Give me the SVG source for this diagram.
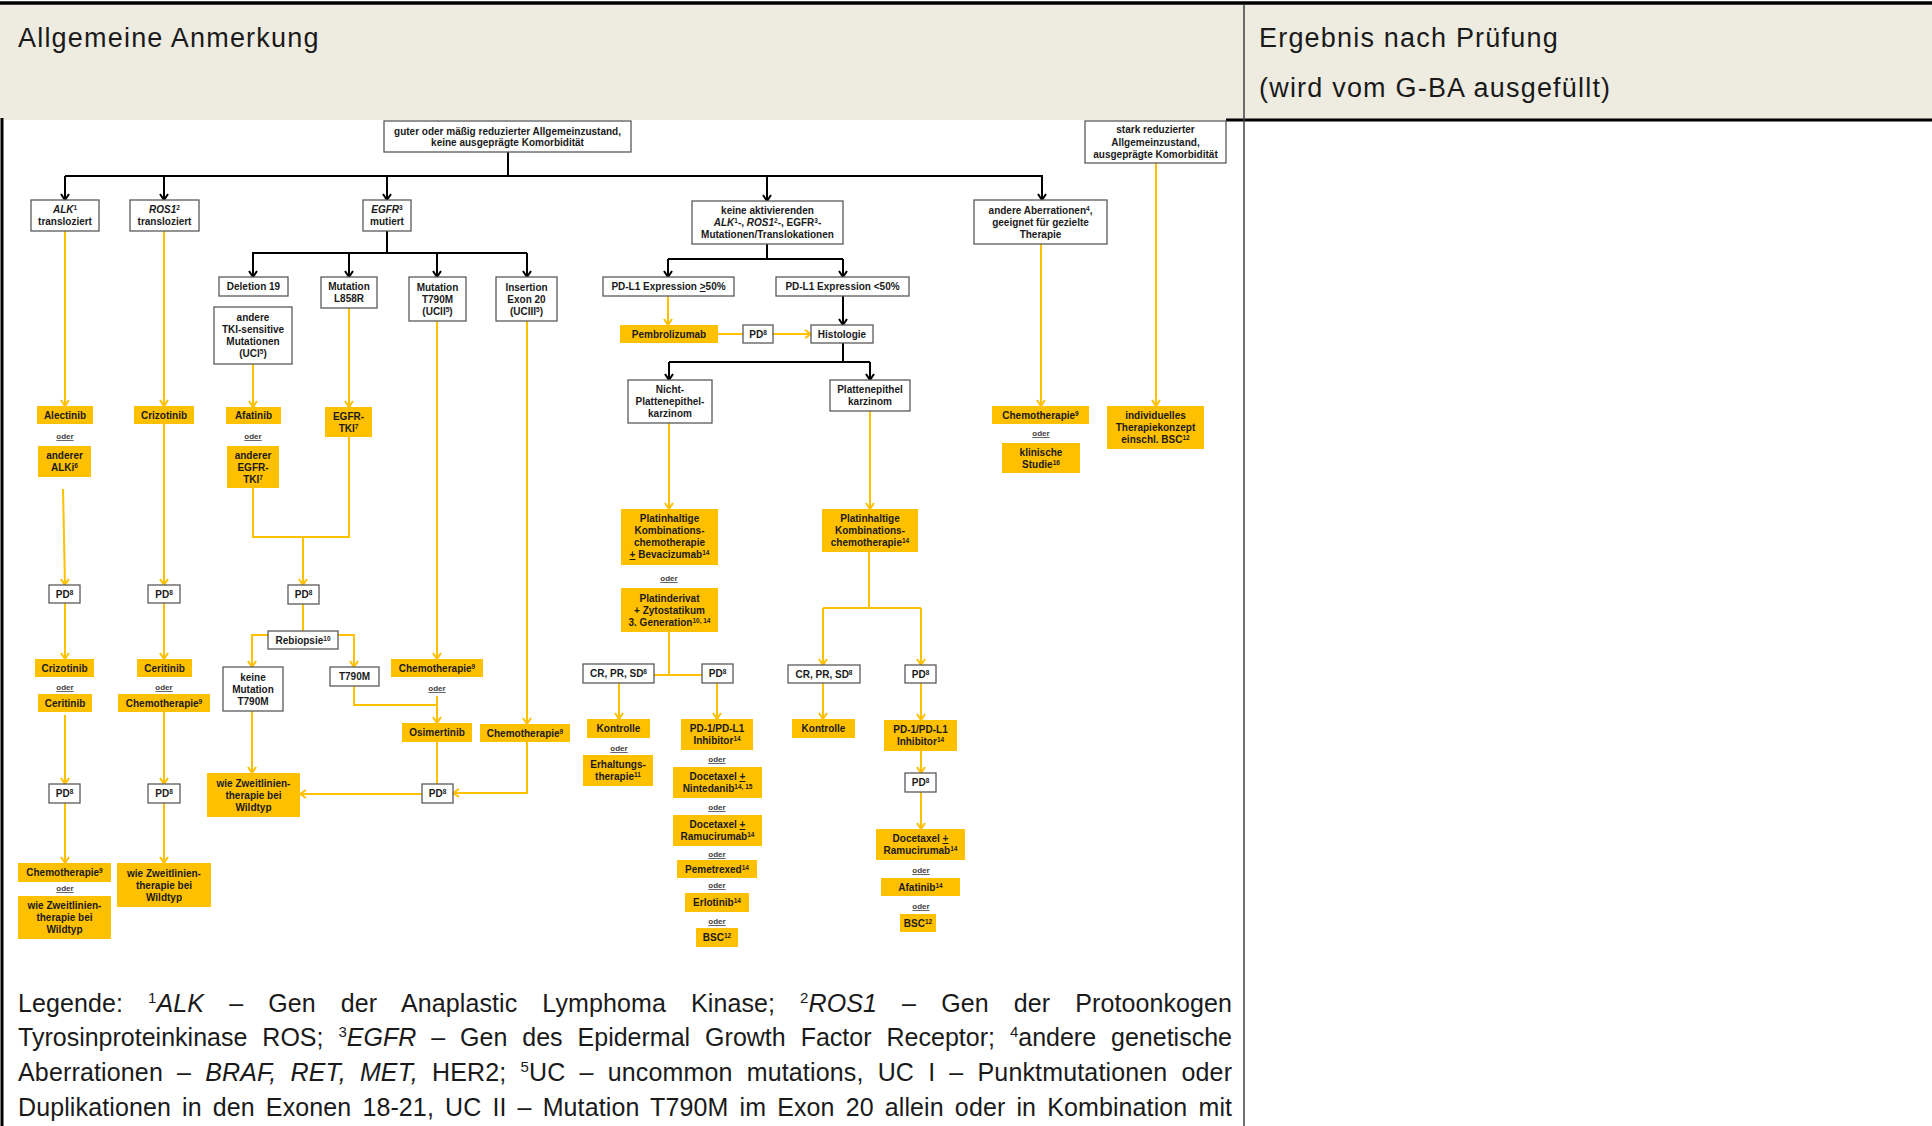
<svg xmlns="http://www.w3.org/2000/svg" width="1932" height="1126" viewBox="0 0 1932 1126">
<defs>
<style>
.t{font-family:"Liberation Sans",Arial,sans-serif;font-weight:bold;font-size:10px;text-anchor:middle;fill:#1a1a1a}
.it{font-style:italic}
.s{font-size:6.5px;baseline-shift:3.5px}
.u{text-decoration:underline}
.o{font-family:"Liberation Sans",Arial,sans-serif;font-weight:bold;font-size:8px;text-anchor:middle;fill:#404040;text-decoration:underline}
.b{fill:#fff;stroke:#5a5a5a;stroke-width:1.3}
.y{fill:#FFC000}
.bl{fill:none;stroke:#000;stroke-width:2}
.yl{fill:none;stroke:#FFC000;stroke-width:2}
.ab{marker-end:url(#ab)}
.ay{marker-end:url(#ay)}
.h{font-family:"Liberation Sans",Arial,sans-serif;font-size:27px;letter-spacing:1.2px;fill:#1a1a1a}
.lg{font-family:"Liberation Sans",Arial,sans-serif;font-size:25px;fill:#1a1a1a}
.ls{font-size:15px;baseline-shift:9px}
</style>
<marker id="ab" viewBox="0 0 8 10" refX="7" refY="5" markerWidth="8" markerHeight="10" markerUnits="userSpaceOnUse" orient="auto"><path d="M1,1 L7,5 L1,9" fill="none" stroke="#000" stroke-width="2"/></marker>
<marker id="ay" viewBox="0 0 8 10" refX="7" refY="5" markerWidth="8" markerHeight="10" markerUnits="userSpaceOnUse" orient="auto"><path d="M1,1 L7,5 L1,9" fill="none" stroke="#FFC000" stroke-width="2"/></marker>
</defs>

<g id="table">
<rect x="0" y="4" width="1932" height="116" fill="#EEECE1"/>
<line x1="0" y1="3" x2="1932" y2="3" stroke="#000" stroke-width="3.5"/>
<line x1="2" y1="118" x2="2" y2="1126" stroke="#000" stroke-width="3"/>
<line x1="1226" y1="120" x2="1932" y2="120" stroke="#000" stroke-width="3"/>
<line x1="1244" y1="5" x2="1244" y2="1126" stroke="#404040" stroke-width="1.5"/>
<text class="h" x="18" y="47">Allgemeine Anmerkung</text>
<text class="h" x="1259" y="47">Ergebnis nach Prüfung</text>
<text class="h" x="1259" y="97">(wird vom G-BA ausgefüllt)</text>
</g>

<g id="connectors">
<path class="bl" d="M508,152 V176"/>
<path class="bl" d="M65,176 H1042"/>
<path class="bl ab" d="M65,176 V200"/>
<path class="bl ab" d="M164,176 V200"/>
<path class="bl ab" d="M387,176 V200"/>
<path class="bl ab" d="M767,176 V201"/>
<path class="bl ab" d="M1042,175 V200"/>
<path class="bl" d="M387,231 V253"/>
<path class="bl" d="M252,253 H527"/>
<path class="bl ab" d="M253,253 V277"/>
<path class="bl ab" d="M349,253 V277"/>
<path class="bl ab" d="M437,253 V277"/>
<path class="bl ab" d="M527,253 V277"/>
<path class="bl" d="M767,244 V259"/>
<path class="bl" d="M668,259 H843"/>
<path class="bl ab" d="M668,259 V277"/>
<path class="bl ab" d="M843,259 V277"/>
<path class="bl ab" d="M843,296 V325"/>
<path class="bl" d="M843,343 V362"/>
<path class="bl" d="M669,362 H870"/>
<path class="bl ab" d="M669,362 V380"/>
<path class="bl ab" d="M870,362 V380"/>
<path class="yl ay" d="M65,231 V406"/>
<path class="yl ay" d="M63,489 L65,585"/>
<path class="yl ay" d="M65,603 V659"/>
<path class="yl ay" d="M65,715 V784"/>
<path class="yl ay" d="M65,803 V863"/>
<path class="yl ay" d="M164,231 V406"/>
<path class="yl ay" d="M164,424 V585"/>
<path class="yl ay" d="M164,603 V659"/>
<path class="yl ay" d="M164,712 V784"/>
<path class="yl ay" d="M164,803 V863"/>
<path class="yl ay" d="M253,364 V407"/>
<path class="yl ay" d="M349,308 V407"/>
<path class="yl" d="M253,488 V537 H349 V437"/>
<path class="yl ay" d="M303,537 V585"/>
<path class="yl" d="M303,604 V631"/>
<path class="yl ay" d="M268,635 H252 V667"/>
<path class="yl ay" d="M338,635 H354 V667"/>
<path class="yl ay" d="M252,711 V773"/>
<path class="yl ay" d="M437,321 V659"/>
<path class="yl" d="M354,686 V705 H437"/>
<path class="yl ay" d="M437,696 V723"/>
<path class="yl" d="M437,742 V784"/>
<path class="yl ay" d="M527,321 V724"/>
<path class="yl ay" d="M527,742 V793 H453"/>
<path class="yl ay" d="M422,794 H300"/>
<path class="yl ay" d="M668,296 V325"/>
<path class="yl" d="M718,334 H743"/>
<path class="yl ay" d="M773,334 H811"/>
<path class="yl ay" d="M669,423 V509"/>
<path class="yl ay" d="M870,411 V509"/>
<path class="yl" d="M669,632 V675"/>
<path class="yl" d="M654,675 H702"/>
<path class="yl ay" d="M619,683 V719"/>
<path class="yl ay" d="M717,683 V719"/>
<path class="yl" d="M869,552 V608"/>
<path class="yl" d="M823,608 H921"/>
<path class="yl ay" d="M823,608 V665"/>
<path class="yl ay" d="M921,608 V665"/>
<path class="yl ay" d="M823,683 V719"/>
<path class="yl ay" d="M921,683 V720"/>
<path class="yl ay" d="M921,751 V773"/>
<path class="yl ay" d="M921,792 V829"/>
<path class="yl ay" d="M1041,244 V406"/>
<path class="yl ay" d="M1156,163 V406"/>
</g>

<g id="n_top"><rect class="b" x="384" y="121" width="247" height="31"/><text class="t"><tspan x="507.5" y="135">guter oder mäßig reduzierter Allgemeinzustand,</tspan><tspan x="507.5" y="146">keine ausgeprägte Komorbidität</tspan></text></g>
<g id="n_stark"><rect class="b" x="1085" y="121" width="141" height="42"/><text class="t"><tspan x="1155.5" y="133">stark reduzierter</tspan><tspan x="1155.5" y="145.5">Allgemeinzustand,</tspan><tspan x="1155.5" y="158">ausgeprägte Komorbidität</tspan></text></g>
<g id="n_alk"><rect class="b" x="31" y="200" width="68" height="31"/><text class="t"><tspan x="65" y="213"><tspan class="it">ALK</tspan><tspan class="s">1</tspan></tspan><tspan x="65" y="225">transloziert</tspan></text></g>
<g id="n_ros1"><rect class="b" x="130" y="200" width="69" height="31"/><text class="t"><tspan x="164.5" y="213"><tspan class="it">ROS1</tspan><tspan class="s">2</tspan></tspan><tspan x="164.5" y="225">transloziert</tspan></text></g>
<g id="n_egfr"><rect class="b" x="363" y="200" width="48" height="31"/><text class="t"><tspan x="387" y="213"><tspan class="it">EGFR</tspan><tspan class="s">3</tspan></tspan><tspan x="387" y="225">mutiert</tspan></text></g>
<g id="n_keine"><rect class="b" x="692" y="201" width="151" height="43"/><text class="t"><tspan x="767.5" y="214">keine aktivierenden</tspan><tspan x="767.5" y="226"><tspan class="it">ALK</tspan><tspan class="s">1</tspan>-, <tspan class="it">ROS1</tspan><tspan class="s">2</tspan>-, EGFR<tspan class="s">3</tspan>-</tspan><tspan x="767.5" y="238">Mutationen/Translokationen</tspan></text></g>
<g id="n_andere"><rect class="b" x="974" y="200" width="133" height="44"/><text class="t"><tspan x="1040.5" y="213.5">andere Aberrationen<tspan class="s">4</tspan>,</tspan><tspan x="1040.5" y="225.5">geeignet für gezielte</tspan><tspan x="1040.5" y="237.5">Therapie</tspan></text></g>
<g id="n_del19"><rect class="b" x="219" y="277" width="69" height="19"/><text class="t" x="253.5" y="290">Deletion 19</text></g>
<g id="n_uci"><rect class="b" x="214" y="307" width="78" height="57"/><text class="t"><tspan x="253" y="321">andere</tspan><tspan x="253" y="333">TKI-sensitive</tspan><tspan x="253" y="345">Mutationen</tspan><tspan x="253" y="357">(UCI<tspan class="s">5</tspan>)</tspan></text></g>
<g id="n_l858r"><rect class="b" x="321" y="277" width="56" height="31"/><text class="t"><tspan x="349" y="290">Mutation</tspan><tspan x="349" y="302">L858R</tspan></text></g>
<g id="n_t790m"><rect class="b" x="409" y="277" width="57" height="44"/><text class="t"><tspan x="437.5" y="290.5">Mutation</tspan><tspan x="437.5" y="302.5">T790M</tspan><tspan x="437.5" y="314.5">(UCII<tspan class="s">5</tspan>)</tspan></text></g>
<g id="n_ins20"><rect class="b" x="496" y="277" width="61" height="44"/><text class="t"><tspan x="526.5" y="290.5">Insertion</tspan><tspan x="526.5" y="302.5">Exon 20</tspan><tspan x="526.5" y="314.5">(UCIII<tspan class="s">5</tspan>)</tspan></text></g>
<g id="n_pdl1hi"><rect class="b" x="603" y="277" width="131" height="19"/><text class="t" x="668.5" y="290">PD-L1 Expression <tspan class="u">&gt;</tspan>50%</text></g>
<g id="n_pdl1lo"><rect class="b" x="776" y="277" width="133" height="19"/><text class="t" x="842.5" y="290">PD-L1 Expression &lt;50%</text></g>
<g id="n_pd_pembro"><rect class="b" x="743" y="325" width="30" height="18"/><text class="t" x="758" y="337.5">PD<tspan class="s">8</tspan></text></g>
<g id="n_histo"><rect class="b" x="811" y="325" width="62" height="18"/><text class="t" x="842" y="337.5">Histologie</text></g>
<g id="n_nicht"><rect class="b" x="628" y="380" width="84" height="43"/><text class="t"><tspan x="670" y="393">Nicht-</tspan><tspan x="670" y="405">Plattenepithel-</tspan><tspan x="670" y="417">karzinom</tspan></text></g>
<g id="n_platten"><rect class="b" x="830" y="380" width="80" height="31"/><text class="t"><tspan x="870" y="393">Plattenepithel</tspan><tspan x="870" y="405">karzinom</tspan></text></g>
<g id="n_alk_pd1"><rect class="b" x="49" y="585" width="31" height="18"/><text class="t" x="64.5" y="597.5">PD<tspan class="s">8</tspan></text></g>
<g id="n_alk_pd2"><rect class="b" x="49" y="784" width="31" height="19"/><text class="t" x="64.5" y="797">PD<tspan class="s">8</tspan></text></g>
<g id="n_ros_pd1"><rect class="b" x="148" y="585" width="32" height="18"/><text class="t" x="164" y="597.5">PD<tspan class="s">8</tspan></text></g>
<g id="n_ros_pd2"><rect class="b" x="148" y="784" width="32" height="19"/><text class="t" x="164" y="797">PD<tspan class="s">8</tspan></text></g>
<g id="n_egfr_pd"><rect class="b" x="288" y="585" width="31" height="19"/><text class="t" x="303.5" y="598">PD<tspan class="s">8</tspan></text></g>
<g id="n_rebiopsie"><rect class="b" x="268" y="631" width="70" height="18"/><text class="t" x="303" y="643.5">Rebiopsie<tspan class="s">10</tspan></text></g>
<g id="n_keine_t790m"><rect class="b" x="223" y="667" width="60" height="44"/><text class="t"><tspan x="253" y="680.5">keine</tspan><tspan x="253" y="692.5">Mutation</tspan><tspan x="253" y="704.5">T790M</tspan></text></g>
<g id="n_t790m_2"><rect class="b" x="330" y="667" width="49" height="19"/><text class="t" x="354.5" y="680">T790M</text></g>
<g id="n_egfr_pd2"><rect class="b" x="422" y="784" width="31" height="19"/><text class="t" x="437.5" y="797">PD<tspan class="s">8</tspan></text></g>
<g id="n_cr_ns"><rect class="b" x="583" y="664" width="71" height="19"/><text class="t" x="618.5" y="677">CR, PR, SD<tspan class="s">8</tspan></text></g>
<g id="n_pd_ns"><rect class="b" x="702" y="664" width="31" height="19"/><text class="t" x="717.5" y="677">PD<tspan class="s">8</tspan></text></g>
<g id="n_cr_sq"><rect class="b" x="788" y="665" width="72" height="18"/><text class="t" x="824" y="677.5">CR, PR, SD<tspan class="s">8</tspan></text></g>
<g id="n_pd_sq"><rect class="b" x="905" y="665" width="31" height="18"/><text class="t" x="920.5" y="677.5">PD<tspan class="s">8</tspan></text></g>
<g id="n_pd_sq2"><rect class="b" x="905" y="773" width="31" height="19"/><text class="t" x="920.5" y="786">PD<tspan class="s">8</tspan></text></g>

<g id="y_alectinib"><rect class="y" x="37" y="406" width="56" height="18"/><text class="t" x="65" y="418.5">Alectinib</text></g>
<text class="o" x="65" y="439">oder</text>
<g id="y_alki"><rect class="y" x="38" y="446" width="53" height="31"/><text class="t"><tspan x="64.5" y="459">anderer</tspan><tspan x="64.5" y="471">ALKi<tspan class="s">6</tspan></tspan></text></g>
<g id="y_crizotinib_ros"><rect class="y" x="134" y="406" width="60" height="18"/><text class="t" x="164" y="418.5">Crizotinib</text></g>
<g id="y_afatinib"><rect class="y" x="226" y="407" width="55" height="17"/><text class="t" x="253.5" y="419">Afatinib</text></g>
<text class="o" x="253" y="439">oder</text>
<g id="y_anderer_egfr"><rect class="y" x="227" y="446" width="52" height="42"/><text class="t"><tspan x="253" y="458.5">anderer</tspan><tspan x="253" y="470.5">EGFR-</tspan><tspan x="253" y="482.5">TKI<tspan class="s">7</tspan></tspan></text></g>
<g id="y_egfr_tki"><rect class="y" x="325" y="407" width="47" height="30"/><text class="t"><tspan x="348.5" y="419.5">EGFR-</tspan><tspan x="348.5" y="431.5">TKI<tspan class="s">7</tspan></tspan></text></g>
<g id="y_alk_crizotinib"><rect class="y" x="35" y="659" width="59" height="18"/><text class="t" x="64.5" y="671.5">Crizotinib</text></g>
<text class="o" x="65" y="690">oder</text>
<g id="y_alk_ceritinib"><rect class="y" x="38" y="694" width="54" height="18"/><text class="t" x="65" y="706.5">Ceritinib</text></g>
<g id="y_alk_chemo"><rect class="y" x="18" y="863" width="93" height="19"/><text class="t" x="64.5" y="876">Chemotherapie<tspan class="s">9</tspan></text></g>
<text class="o" x="65" y="891">oder</text>
<g id="y_alk_wie"><rect class="y" x="18" y="896" width="93" height="43"/><text class="t"><tspan x="64.5" y="909">wie Zweitlinien-</tspan><tspan x="64.5" y="921">therapie bei</tspan><tspan x="64.5" y="933">Wildtyp</tspan></text></g>
<g id="y_ros_ceritinib"><rect class="y" x="137" y="659" width="55" height="18"/><text class="t" x="164.5" y="671.5">Ceritinib</text></g>
<text class="o" x="164" y="690">oder</text>
<g id="y_ros_chemo"><rect class="y" x="118" y="694" width="92" height="18"/><text class="t" x="164" y="706.5">Chemotherapie<tspan class="s">9</tspan></text></g>
<g id="y_ros_wie"><rect class="y" x="117" y="863" width="94" height="44"/><text class="t"><tspan x="164" y="876.5">wie Zweitlinien-</tspan><tspan x="164" y="888.5">therapie bei</tspan><tspan x="164" y="900.5">Wildtyp</tspan></text></g>
<g id="y_t790m_chemo"><rect class="y" x="391" y="659" width="92" height="18"/><text class="t" x="437" y="671.5">Chemotherapie<tspan class="s">9</tspan></text></g>
<text class="o" x="437" y="691">oder</text>
<g id="y_osimertinib"><rect class="y" x="402" y="723" width="70" height="19"/><text class="t" x="437" y="736">Osimertinib</text></g>
<g id="y_ins_chemo"><rect class="y" x="480" y="724" width="90" height="18"/><text class="t" x="525" y="736.5">Chemotherapie<tspan class="s">9</tspan></text></g>
<g id="y_egfr_wie"><rect class="y" x="207" y="773" width="93" height="44"/><text class="t"><tspan x="253.5" y="786.5">wie Zweitlinien-</tspan><tspan x="253.5" y="798.5">therapie bei</tspan><tspan x="253.5" y="810.5">Wildtyp</tspan></text></g>
<g id="y_pembro"><rect class="y" x="620" y="325" width="98" height="18"/><text class="t" x="669" y="337.5">Pembrolizumab</text></g>
<g id="y_platin_ns"><rect class="y" x="621" y="509" width="97" height="56"/><text class="t"><tspan x="669.5" y="522">Platinhaltige</tspan><tspan x="669.5" y="534">Kombinations-</tspan><tspan x="669.5" y="546">chemotherapie</tspan><tspan x="669.5" y="558"><tspan class="u">+</tspan> Bevacizumab<tspan class="s">14</tspan></tspan></text></g>
<text class="o" x="669" y="581">oder</text>
<g id="y_platinderivat"><rect class="y" x="621" y="588" width="97" height="44"/><text class="t"><tspan x="669.5" y="601.5">Platinderivat</tspan><tspan x="669.5" y="613.5">+ Zytostatikum</tspan><tspan x="669.5" y="625.5">3. Generation<tspan class="s">10, 14</tspan></tspan></text></g>
<g id="y_kontrolle_ns"><rect class="y" x="587" y="719" width="63" height="19"/><text class="t" x="618.5" y="732">Kontrolle</text></g>
<text class="o" x="619" y="751">oder</text>
<g id="y_erhaltung"><rect class="y" x="583" y="755" width="70" height="31"/><text class="t"><tspan x="618" y="768">Erhaltungs-</tspan><tspan x="618" y="780">therapie<tspan class="s">11</tspan></tspan></text></g>
<g id="y_pd1_ns"><rect class="y" x="681" y="719" width="72" height="31"/><text class="t"><tspan x="717" y="732">PD-1/PD-L1</tspan><tspan x="717" y="744">Inhibitor<tspan class="s">14</tspan></tspan></text></g>
<text class="o" x="717" y="762">oder</text>
<g id="y_doc_nin"><rect class="y" x="673" y="767" width="89" height="31"/><text class="t"><tspan x="717.5" y="780">Docetaxel <tspan class="u">+</tspan></tspan><tspan x="717.5" y="792">Nintedanib<tspan class="s">14, 15</tspan></tspan></text></g>
<text class="o" x="717" y="810">oder</text>
<g id="y_doc_ram_ns"><rect class="y" x="673" y="815" width="89" height="31"/><text class="t"><tspan x="717.5" y="828">Docetaxel <tspan class="u">+</tspan></tspan><tspan x="717.5" y="840">Ramucirumab<tspan class="s">14</tspan></tspan></text></g>
<text class="o" x="717" y="857">oder</text>
<g id="y_pemetrexed"><rect class="y" x="677" y="860" width="80" height="18"/><text class="t" x="717" y="872.5">Pemetrexed<tspan class="s">14</tspan></text></g>
<text class="o" x="717" y="888">oder</text>
<g id="y_erlotinib"><rect class="y" x="685" y="893" width="64" height="19"/><text class="t" x="717" y="906">Erlotinib<tspan class="s">14</tspan></text></g>
<text class="o" x="717" y="924">oder</text>
<g id="y_bsc_ns"><rect class="y" x="696" y="928" width="42" height="19"/><text class="t" x="717" y="941">BSC<tspan class="s">12</tspan></text></g>
<g id="y_platin_sq"><rect class="y" x="822" y="509" width="96" height="43"/><text class="t"><tspan x="870" y="522">Platinhaltige</tspan><tspan x="870" y="534">Kombinations-</tspan><tspan x="870" y="546">chemotherapie<tspan class="s">14</tspan></tspan></text></g>
<g id="y_kontrolle_sq"><rect class="y" x="792" y="719" width="63" height="19"/><text class="t" x="823.5" y="732">Kontrolle</text></g>
<g id="y_pd1_sq"><rect class="y" x="884" y="720" width="73" height="31"/><text class="t"><tspan x="920.5" y="733">PD-1/PD-L1</tspan><tspan x="920.5" y="745">Inhibitor<tspan class="s">14</tspan></tspan></text></g>
<g id="y_doc_ram_sq"><rect class="y" x="876" y="829" width="89" height="31"/><text class="t"><tspan x="920.5" y="842">Docetaxel <tspan class="u">+</tspan></tspan><tspan x="920.5" y="854">Ramucirumab<tspan class="s">14</tspan></tspan></text></g>
<text class="o" x="921" y="873">oder</text>
<g id="y_afatinib_sq"><rect class="y" x="881" y="878" width="79" height="18"/><text class="t" x="920.5" y="890.5">Afatinib<tspan class="s">14</tspan></text></g>
<text class="o" x="921" y="909">oder</text>
<g id="y_bsc_sq"><rect class="y" x="900" y="914" width="36" height="18"/><text class="t" x="918" y="926.5">BSC<tspan class="s">12</tspan></text></g>
<g id="y_other_chemo"><rect class="y" x="992" y="406" width="97" height="18"/><text class="t" x="1040.5" y="418.5">Chemotherapie<tspan class="s">9</tspan></text></g>
<text class="o" x="1041" y="436">oder</text>
<g id="y_studie"><rect class="y" x="1002" y="443" width="78" height="30"/><text class="t"><tspan x="1041" y="455.5">klinische</tspan><tspan x="1041" y="467.5">Studie<tspan class="s">16</tspan></tspan></text></g>
<g id="y_individuell"><rect class="y" x="1107" y="406" width="97" height="43"/><text class="t"><tspan x="1155.5" y="419">individuelles</tspan><tspan x="1155.5" y="431">Therapiekonzept</tspan><tspan x="1155.5" y="443">einschl. BSC<tspan class="s">12</tspan></tspan></text></g>

<g id="legend">
<text class="lg" x="18" y="1012" word-spacing="18" textLength="1214" lengthAdjust="spacing">Legende: <tspan class="ls">1</tspan><tspan class="it">ALK</tspan> – Gen der Anaplastic Lymphoma Kinase; <tspan class="ls">2</tspan><tspan class="it">ROS1</tspan> – Gen der Protoonkogen</text>
<text class="lg" x="18" y="1046" word-spacing="8" textLength="1214" lengthAdjust="spacing">Tyrosinproteinkinase ROS; <tspan class="ls">3</tspan><tspan class="it">EGFR</tspan> – Gen des Epidermal Growth Factor Receptor; <tspan class="ls">4</tspan>andere genetische</text>
<text class="lg" x="18" y="1081" word-spacing="7" textLength="1214" lengthAdjust="spacing">Aberrationen – <tspan class="it">BRAF, RET, MET,</tspan> HER2; <tspan class="ls">5</tspan>UC – uncommon mutations, UC I – Punktmutationen oder</text>
<text class="lg" x="18" y="1116" word-spacing="4" textLength="1214" lengthAdjust="spacing">Duplikationen in den Exonen 18-21, UC II – Mutation T790M im Exon 20 allein oder in Kombination mit</text>
</g>
</svg>
